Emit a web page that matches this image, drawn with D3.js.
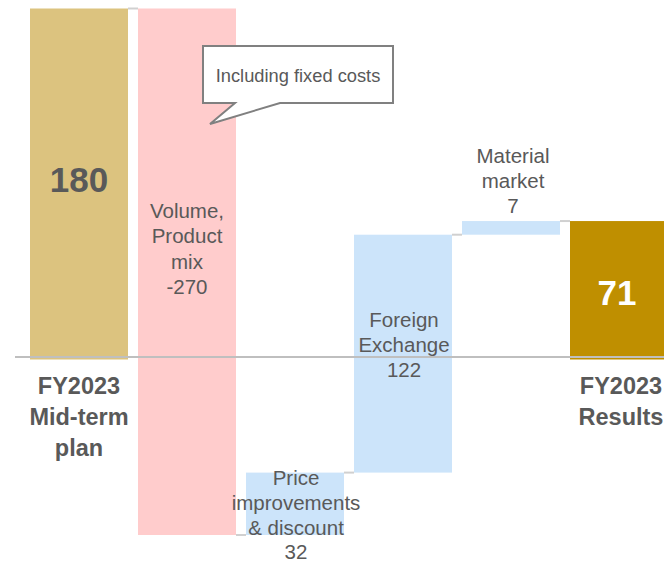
<!DOCTYPE html>
<html><head><meta charset="utf-8">
<script src="https://cdn.jsdelivr.net/npm/d3@7"></script>
<style>html,body{margin:0;padding:0;background:#fff;overflow:hidden}</style>
</head><body>
<svg id="chart" width="664" height="562"></svg>
<script>
const categories = ["plan", "volume", "price", "fx", "material", "results"];
const deltas = [180, -270, 32, 122, 7, 71];
const kinds = ["total", "delta", "delta", "delta", "delta", "total"];
const barLabels = [["180"], ["Volume,", "Product", "mix", "-270"], ["Price", "improvements", "& discount", "32"], ["Foreign", "Exchange", "122"], ["Material", "market", "7"], ["71"]];
const axisLabels = [["FY2023", "Mid-term", "plan"], [], [], [], [], ["FY2023", "Results"]];
const calloutText = "Including fixed costs";
const colors = ["#DCC37F", "#FFCCCC", "#CCE4FA", "#CCE4FA", "#CCE4FA", "#BF8F00"];

// compute waterfall spans
let run = 0;
const bars = categories.map((c, i) => {
  let lo, hi;
  if (kinds[i] === "total") { lo = 0; hi = deltas[i]; run = deltas[i]; }
  else { const s = run; run += deltas[i]; lo = Math.min(s, run); hi = Math.max(s, run); }
  return { c, i, lo, hi, end: run };
});

const svg = d3.select("#chart");
const x = d3.scaleBand().domain(categories).range([25, 673]).paddingInner(10/108).paddingOuter(5/108);
const y = d3.scaleLinear().domain([-90, 180]).range([535, 8.5]);

// connectors
for (let i = 0; i < bars.length - 1; i++) {
  const lvl = bars[i].end;
  svg.append("line")
    .attr("x1", x(categories[i]) + x.bandwidth()).attr("x2", x(categories[i+1]))
    .attr("y1", y(lvl)).attr("y2", y(lvl))
    .attr("stroke", "#d0d0d0").attr("stroke-width", 2);
}

svg.selectAll("rect.bar").data(bars).enter().append("rect")
  .attr("class", "bar")
  .attr("x", d => x(d.c)).attr("width", x.bandwidth())
  .attr("y", d => y(d.hi)).attr("height", d => y(d.lo) - y(d.hi))
  .attr("fill", (d, i) => colors[i]);

// axis line
svg.append("line").attr("x1", 15).attr("x2", 664)
  .attr("y1", y(0) - 2.5).attr("y2", y(0) - 2.5)
  .attr("stroke", "#bfbfbf").attr("stroke-width", 2);

const font = "'Liberation Sans', Arial, sans-serif";
function lines(g, arr, cx, y0, lh, size, weight, fill) {
  arr.forEach((t, k) => {
    g.append("text").attr("x", cx).attr("y", y0 + k * lh)
      .attr("text-anchor", "middle").attr("font-family", font)
      .attr("font-size", size).attr("font-weight", weight).attr("fill", fill).text(t);
  });
}
const cx = c => x(c) + x.bandwidth() / 2;

// bar labels
lines(svg, barLabels[0], cx("plan"), 192, 0, 35, "bold", "#595959");
lines(svg, barLabels[1], cx("volume"), 218, 25.3, 20.5, "normal", "#595959");
lines(svg, barLabels[2], cx("price") + 1, 485, 24.8, 20.5, "normal", "#595959");
lines(svg, barLabels[3], cx("fx") + 1, 327, 25, 20.5, "normal", "#595959");
lines(svg, barLabels[4], cx("material") + 2, 163, 25, 20.5, "normal", "#595959");
lines(svg, barLabels[5], cx("results") - 2, 305, 0, 35, "bold", "#ffffff");

// axis labels
lines(svg, axisLabels[0], cx("plan"), 394, 31, 23.5, "bold", "#595959");
lines(svg, axisLabels[5], cx("results") + 2, 394, 31, 23.5, "bold", "#595959");

// callout
const cl = 203, cr = 393, ct = 46, cb = 103;
const path = `M${cl},${ct} L${cr},${ct} L${cr},${cb} L280,${cb} L210,124 L235,${cb} L${cl},${cb} Z`;
svg.append("path").attr("d", path).attr("fill", "#fff").attr("stroke", "#808080").attr("stroke-width", 2);
svg.append("text").attr("x", (cl + cr) / 2).attr("y", 82).attr("text-anchor", "middle")
  .attr("font-family", font).attr("font-size", 18.3).attr("fill", "#595959").text(calloutText);
</script>
</body></html>
